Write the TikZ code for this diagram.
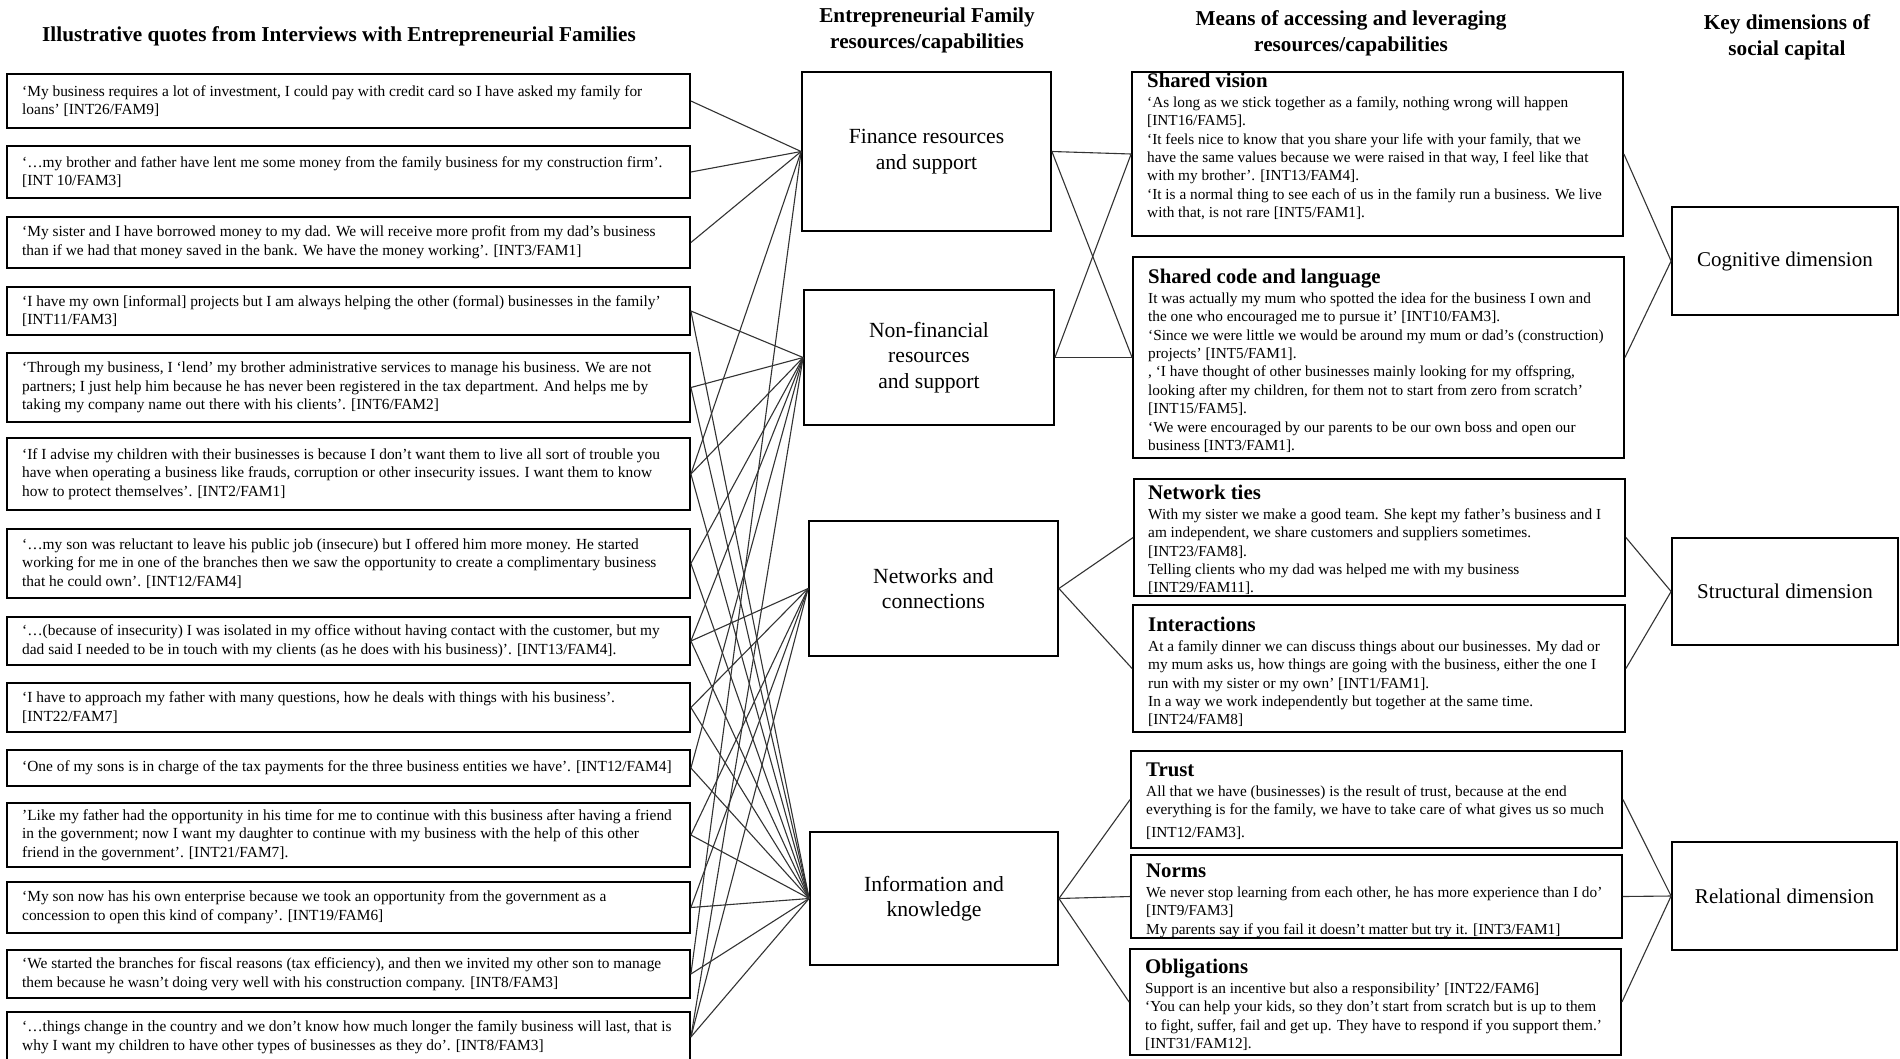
\documentclass[tikz,border=0pt]{standalone}
\usepackage{fontspec}
\setmainfont{Liberation Serif}
\begin{document}
\begin{tikzpicture}[x=1pt,y=-1pt,
  box/.style={draw=black, line width=1.8pt, inner sep=0pt, rectangle},
  qtext/.style={anchor=west, align=left, inner sep=0pt, font=\fontsize{15.4}{18.7}\selectfont},
  mtext/.style={anchor=north west, align=left, inner sep=0pt, font=\fontsize{15.3}{18.4}\selectfont},
  rlabel/.style={align=center, inner sep=0pt, font=\fontsize{21.6}{25.5}\selectfont},
  klabel/.style={align=center, inner sep=0pt, font=\fontsize{21}{25.5}\selectfont},
  hdr/.style={align=center, inner sep=0pt, font=\fontsize{21.2}{26}\selectfont\bfseries},
  link/.style={draw=black!80, line width=1.1pt},
]
\newcommand{\mhead}[1]{{\rule{0pt}{15pt}\fontsize{20.8}{18.4}\selectfont\bfseries #1}\\[1.6pt]}
\useasboundingbox (0,0) rectangle (1900,1058);
\fill[white] (0,0) rectangle (1900,1058);

% headers
\node[hdr] (h1) at (339,36) {Illustrative quotes from Interviews with Entrepreneurial Families};
\node[hdr] (h2) at (927,30) {Entrepreneurial Family\\resources/capabilities};
\node[hdr] (h3) at (1351,33.5) {Means of accessing and leveraging\\resources/capabilities};
\node[hdr] (h4) at (1787,37.5) {Key dimensions of\\social capital};

% quote boxes
\node[box, minimum width=683, minimum height=54] (q1) at (348.5,101) {};
\node[box, minimum width=683, minimum height=52] (q2) at (348.5,172) {};
\node[box, minimum width=683, minimum height=51] (q3) at (348.5,242.5) {};
\node[box, minimum width=683, minimum height=48] (q4) at (348.5,311) {};
\node[box, minimum width=683, minimum height=69] (q5) at (348.5,387.5) {};
\node[box, minimum width=683, minimum height=72] (q6) at (348.5,474) {};
\node[box, minimum width=683, minimum height=69] (q7) at (348.5,563.5) {};
\node[box, minimum width=683, minimum height=48] (q8) at (348.5,641) {};
\node[box, minimum width=683, minimum height=49] (q9) at (348.5,707.5) {};
\node[box, minimum width=683, minimum height=36] (q10) at (348.5,768) {};
\node[box, minimum width=683, minimum height=64] (q11) at (348.5,835) {};
\node[box, minimum width=683, minimum height=51] (q12) at (348.5,907.5) {};
\node[box, minimum width=683, minimum height=48] (q13) at (348.5,974) {};
\node[box, minimum width=683, minimum height=50] (q14) at (348.5,1037) {};

\node[qtext] (t1) at (22,101) {‘My business requires a lot of investment, I could pay with credit card so I have asked my family for\\loans’ [INT26/FAM9]};
\node[qtext] (t2) at (22,172) {‘…my brother and father have lent me some money from the family business for my construction firm’.\\{}[INT 10/FAM3]};
\node[qtext] (t3) at (22,242.5) {‘My sister and I have borrowed money to my dad. We will receive more profit from my dad’s business\\than if we had that money saved in the bank. We have the money working’. [INT3/FAM1]};
\node[qtext] (t4) at (22,311) {‘I have my own [informal] projects but I am always helping the other (formal) businesses in the family’\\{}[INT11/FAM3]};
\node[qtext] (t5) at (22,387.5) {‘Through my business, I ‘lend’ my brother administrative services to manage his business. We are not\\partners; I just help him because he has never been registered in the tax department. And helps me by\\taking my company name out there with his clients’. [INT6/FAM2]};
\node[qtext] (t6) at (22,474) {‘If I advise my children with their businesses is because I don’t want them to live all sort of trouble you\\have when operating a business like frauds, corruption or other insecurity issues. I want them to know\\how to protect themselves’. [INT2/FAM1]};
\node[qtext] (t7) at (22,563.5) {‘…my son was reluctant to leave his public job (insecure) but I offered him more money. He started\\working for me in one of the branches then we saw the opportunity to create a complimentary business\\that he could own’. [INT12/FAM4]};
\node[qtext] (t8) at (22,641) {‘…(because of insecurity) I was isolated in my office without having contact with the customer, but my\\dad said I needed to be in touch with my clients (as he does with his business)’. [INT13/FAM4].};
\node[qtext] (t9) at (22,707.5) {‘I have to approach my father with many questions, how he deals with things with his business’.\\{}[INT22/FAM7]};
\node[qtext] (t10) at (22,768) {‘One of my sons is in charge of the tax payments for the three business entities we have’. [INT12/FAM4]};
\node[qtext] (t11) at (22,835) {'Like my father had the opportunity in his time for me to continue with this business after having a friend\\in the government; now I want my daughter to continue with my business with the help of this other\\friend in the government’. [INT21/FAM7].};
\node[qtext] (t12) at (22,907.5) {‘My son now has his own enterprise because we took an opportunity from the government as a\\concession to open this kind of company’. [INT19/FAM6]};
\node[qtext] (t13) at (22,974) {‘We started the branches for fiscal reasons (tax efficiency), and then we invited my other son to manage\\them because he wasn’t doing very well with his construction company. [INT8/FAM3]};
\node[qtext] (t14) at (22,1037) {‘…things change in the country and we don’t know how much longer the family business will last, that is\\why I want my children to have other types of businesses as they do’. [INT8/FAM3]};

% resource boxes
\node[box, minimum width=249, minimum height=159] (fin) at (926.5,151.5) {};
\node[rlabel] at (fin.center) {Finance resources\\and support};
\node[box, minimum width=250, minimum height=135] (nfin) at (929,357.5) {};
\node[rlabel] at (nfin.center) {Non-financial\\resources\\and support};
\node[box, minimum width=249, minimum height=135] (net) at (933.5,588.5) {};
\node[rlabel] at (net.center) {Networks and\\connections};
\node[box, minimum width=248, minimum height=133] (inf) at (934,898.5) {};
\node[rlabel] at (inf.center) {Information and\\knowledge};

% means boxes
\node[box, minimum width=491, minimum height=164] (sv) at (1377.5,154) {};
\node[mtext] at (1147,72) {\mhead{Shared vision}‘As long as we stick together as a family, nothing wrong will happen\\{}[INT16/FAM5].\\‘It feels nice to know that you share your life with your family, that we\\have the same values because we were raised in that way, I feel like that\\with my brother’. [INT13/FAM4].\\‘It is a normal thing to see each of us in the family run a business. We live\\with that, is not rare [INT5/FAM1].};
\node[box, minimum width=491, minimum height=201] (sc) at (1378.5,357.5) {};
\node[mtext] at (1148,268) {\mhead{Shared code and language}It was actually my mum who spotted the idea for the business I own and\\the one who encouraged me to pursue it’ [INT10/FAM3].\\‘Since we were little we would be around my mum or dad’s (construction)\\projects’ [INT5/FAM1].\\, ‘I have thought of other businesses mainly looking for my offspring,\\looking after my children, for them not to start from zero from scratch’\\{}[INT15/FAM5].\\‘We were encouraged by our parents to be our own boss and open our\\business [INT3/FAM1].};
\node[box, minimum width=491, minimum height=117] (nt) at (1379.5,537.5) {};
\node[mtext] at (1148,484) {\mhead{Network ties}With my sister we make a good team. She kept my father’s business and I\\am independent, we share customers and suppliers sometimes.\\{}[INT23/FAM8].\\Telling clients who my dad was helped me with my business\\{}[INT29/FAM11].};
\node[box, minimum width=492, minimum height=127] (ia) at (1379,668.5) {};
\node[mtext] at (1148,616) {\mhead{Interactions}At a family dinner we can discuss things about our businesses. My dad or\\my mum asks us, how things are going with the business, either the one I\\run with my sister or my own’ [INT1/FAM1].\\In a way we work independently but together at the same time.\\{}[INT24/FAM8]};
\node[box, minimum width=491, minimum height=97] (tr) at (1376.5,799.5) {};
\node[mtext] at (1146,761) {\mhead{Trust}All that we have (businesses) is the result of trust, because at the end\\everything is for the family, we have to take care of what gives us so much\\[4pt]{}[INT12/FAM3].};
\node[box, minimum width=491, minimum height=83] (no) at (1376.5,896.5) {};
\node[mtext] at (1146,862) {\mhead{Norms}We never stop learning from each other, he has more experience than I do’\\{}[INT9/FAM3]\\My parents say if you fail it doesn’t matter but try it. [INT3/FAM1]};
\node[box, minimum width=491, minimum height=106] (ob) at (1375.5,1002) {};
\node[mtext] at (1145,958) {\mhead{Obligations}Support is an incentive but also a responsibility’ [INT22/FAM6]\\‘You can help your kids, so they don’t start from scratch but is up to them\\to fight, suffer, fail and get up. They have to respond if you support them.’\\{}[INT31/FAM12].};

% key dimensions
\node[box, minimum width=226, minimum height=108] (cog) at (1785,261) {};
\node[klabel] at (cog.center) {Cognitive dimension};
\node[box, minimum width=226, minimum height=107] (str) at (1785,591.5) {};
\node[klabel] at (str.center) {Structural dimension};
\node[box, minimum width=225, minimum height=108] (rel) at (1784.5,896) {};
\node[klabel] at (rel.center) {Relational dimension};

% quotes -> resources
\foreach \q in {q1,q2,q3,q6,q13} \draw[link] (\q.east) -- (fin.west);
\foreach \q in {q4,q5,q6,q7,q8,q10,q14} \draw[link] (\q.east) -- (nfin.west);
\foreach \q in {q8,q9,q11,q12,q14} \draw[link] (\q.east) -- (net.west);
\foreach \q in {q4,q5,q6,q7,q8,q9,q10,q11,q12,q13,q14} \draw[link] (\q.east) -- (inf.west);

% resources -> means
\draw[link] (fin.east) -- (sv.west);
\draw[link] (fin.east) -- (sc.west);
\draw[link] (nfin.east) -- (sv.west);
\draw[link] (nfin.east) -- (sc.west);
\draw[link] (net.east) -- (nt.west);
\draw[link] (net.east) -- (ia.west);
\draw[link] (inf.east) -- (tr.west);
\draw[link] (inf.east) -- (no.west);
\draw[link] (inf.east) -- (ob.west);

% means -> dimensions
\draw[link] (sv.east) -- (cog.west);
\draw[link] (sc.east) -- (cog.west);
\draw[link] (nt.east) -- (str.west);
\draw[link] (ia.east) -- (str.west);
\draw[link] (tr.east) -- (rel.west);
\draw[link] (no.east) -- (rel.west);
\draw[link] (ob.east) -- (rel.west);
\end{tikzpicture}
\end{document}
